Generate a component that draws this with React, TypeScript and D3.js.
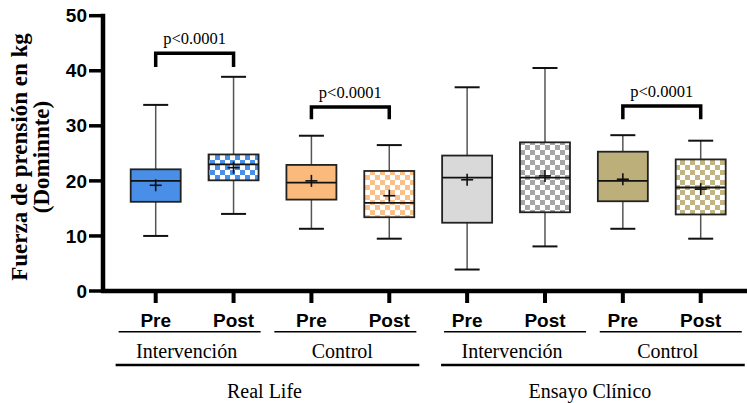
import React from "react";
import * as d3 from "d3";

// categories along the x axis (two per subgroup)
const categories = ["Pre", "Post", "Pre", "Post", "Pre", "Post", "Pre", "Post"];
const subgroups = ["Intervención", "Control", "Intervención", "Control"];
const groups = ["Real Life", "Ensayo Clínico"];

// box plot stats (kg)
const whiskerMin = [10.0, 14.0, 11.3, 9.5, 3.9, 8.1, 11.3, 9.5];
const q1 = [16.2, 20.1, 16.6, 13.4, 12.4, 14.3, 16.3, 13.9];
const median = [20.0, 23.0, 19.7, 16.0, 20.6, 20.6, 20.0, 18.8];
const q3 = [22.1, 24.8, 22.9, 21.8, 24.6, 27.0, 25.3, 23.9];
const whiskerMax = [33.8, 38.9, 28.2, 26.5, 37.0, 40.5, 28.3, 27.3];
const means = [19.2, 22.4, 20.0, 17.3, 20.2, 20.9, 20.3, 18.5];

// significance brackets: [from index, to index, bracket level, leg end]
const comparisons = [
  { from: 0, to: 1, top: 43.2, leg: 40.7, label: "p<0.0001" },
  { from: 2, to: 3, top: 33.4, leg: 31.2, label: "p<0.0001" },
  { from: 6, to: 7, top: 33.6, leg: 31.2, label: "p<0.0001" },
];

const yTicks = [0, 10, 20, 30, 40, 50];

const fills = ["#4A8FE7", "url(#chkBlue)", "#F9BA7C", "url(#chkOrange)", "#D9D9D9", "url(#chkGrey)", "#BDAF79", "url(#chkKhaki)"];

const SANS = "'Liberation Sans', Arial, sans-serif";
const SERIF = "'Liberation Serif', 'Times New Roman', serif";

export default function App() {
  const width = 747;
  const height = 403;
  const axisX = 103;
  const axisY = 291;

  const y = d3.scaleLinear().domain([0, 50]).range([axisY, 15.7]);
  const x = d3
    .scalePoint<number>()
    .domain(categories.map((_, i) => i))
    .range([155.7, 700.7]);

  const boxW = 50;
  const capW = 25;

  // subgroup underline positions (Prism shifts them a bit per group)
  const groupShift = [-5, 9];
  const subHalf = 71;
  const subs = subgroups.map((name, i) => {
    const mid = ((x(i * 2) as number) + (x(i * 2 + 1) as number)) / 2 + groupShift[Math.floor(i / 2)];
    return { name, mid, x1: mid - subHalf, x2: mid + subHalf };
  });
  const supers = groups.map((name, g) => {
    const x1 = subs[g * 2].x1 - 3;
    const x2 = subs[g * 2 + 1].x2 + 3;
    return { name, x1, x2, mid: (x1 + x2) / 2 - 3 };
  });

  const pattern = (id: string, color: string) => (
    <pattern id={id} patternUnits="userSpaceOnUse" width={10} height={10}>
      <rect width={10} height={10} fill="#ffffff" />
      <rect width={5} height={5} fill={color} />
      <rect x={5} y={5} width={5} height={5} fill={color} />
    </pattern>
  );

  return (
    <svg width={width} height={height} style={{ position: "absolute", left: 0, top: 0, background: "#fff" }}>
      <defs>
        {pattern("chkBlue", "#4A8FE7")}
        {pattern("chkOrange", "#F9C08A")}
        {pattern("chkGrey", "#A6A6A6")}
        {pattern("chkKhaki", "#C2B582")}
      </defs>

      {/* Y axis title */}
      <g fontFamily={SERIF} fontWeight="bold" fontSize={23} textAnchor="middle">
        <text transform="translate(27,157) rotate(-90)">Fuerza de prensión en kg</text>
        <text transform="translate(49,157) rotate(-90)">(Dominnte)</text>
      </g>

      {/* Boxes */}
      {categories.map((_, i) => {
        const cx = x(i) as number;
        return (
          <g key={i}>
            <line x1={cx} x2={cx} y1={y(whiskerMax[i])} y2={y(q3[i])} stroke="#555" strokeWidth={1.5} />
            <line x1={cx} x2={cx} y1={y(q1[i])} y2={y(whiskerMin[i])} stroke="#555" strokeWidth={1.5} />
            <line x1={cx - capW / 2} x2={cx + capW / 2} y1={y(whiskerMax[i])} y2={y(whiskerMax[i])} stroke="#111" strokeWidth={2} />
            <line x1={cx - capW / 2} x2={cx + capW / 2} y1={y(whiskerMin[i])} y2={y(whiskerMin[i])} stroke="#111" strokeWidth={2} />
            <rect
              x={cx - boxW / 2}
              y={y(q3[i])}
              width={boxW}
              height={y(q1[i]) - y(q3[i])}
              fill={fills[i]}
              stroke="#222"
              strokeWidth={1.8}
            />
            <line x1={cx - boxW / 2} x2={cx + boxW / 2} y1={y(median[i])} y2={y(median[i])} stroke="#111" strokeWidth={1.8} />
            <line x1={cx - 6} x2={cx + 6} y1={y(means[i])} y2={y(means[i])} stroke="#111" strokeWidth={1.6} />
            <line x1={cx} x2={cx} y1={y(means[i]) - 6} y2={y(means[i]) + 6} stroke="#111" strokeWidth={1.6} />
          </g>
        );
      })}

      {/* Significance brackets */}
      {comparisons.map((c, i) => {
        const xa = x(c.from) as number;
        const xb = x(c.to) as number;
        return (
          <g key={i}>
            <path
              d={`M${xa},${y(c.leg)}V${y(c.top)}H${xb}V${y(c.leg)}`}
              fill="none"
              stroke="#000"
              strokeWidth={3.5}
            />
            <text x={(xa + xb) / 2} y={y(c.top) - 9} textAnchor="middle" fontFamily={SERIF} fontSize={16.5}>
              {c.label}
            </text>
          </g>
        );
      })}

      {/* Y axis */}
      <line x1={axisX} x2={axisX} y1={y(50) - 2} y2={axisY + 2} stroke="#000" strokeWidth={4.5} />
      {yTicks.map(t => (
        <g key={t} transform={`translate(0,${y(t)})`}>
          <line x1={89} x2={axisX} stroke="#000" strokeWidth={3.5} />
          <text x={87} dy="0.35em" textAnchor="end" fontFamily={SANS} fontWeight="bold" fontSize={19}>
            {t}
          </text>
        </g>
      ))}

      {/* X axis */}
      <line x1={axisX - 2} x2={width} y1={axisY} y2={axisY} stroke="#000" strokeWidth={4.5} />
      {categories.map((c, i) => (
        <g key={i} transform={`translate(${x(i)},0)`}>
          <line y1={axisY} y2={303} stroke="#000" strokeWidth={4} />
          <text y={327} textAnchor="middle" fontFamily={SANS} fontWeight="bold" fontSize={19}>
            {c}
          </text>
        </g>
      ))}

      {/* Subgroup labels */}
      {subs.map((s, i) => (
        <g key={i}>
          <line x1={s.x1} x2={s.x2} y1={331.7} y2={331.7} stroke="#000" strokeWidth={1.5} />
          <text x={s.mid - 3} y={358} textAnchor="middle" fontFamily={SERIF} fontSize={20}>
            {s.name}
          </text>
        </g>
      ))}

      {/* Group labels */}
      {supers.map((g, i) => (
        <g key={i}>
          <line x1={g.x1} x2={g.x2} y1={365} y2={365} stroke="#000" strokeWidth={2.6} />
          <text x={g.mid} y={398} textAnchor="middle" fontFamily={SERIF} fontSize={20}>
            {g.name}
          </text>
        </g>
      ))}
    </svg>
  );
}
